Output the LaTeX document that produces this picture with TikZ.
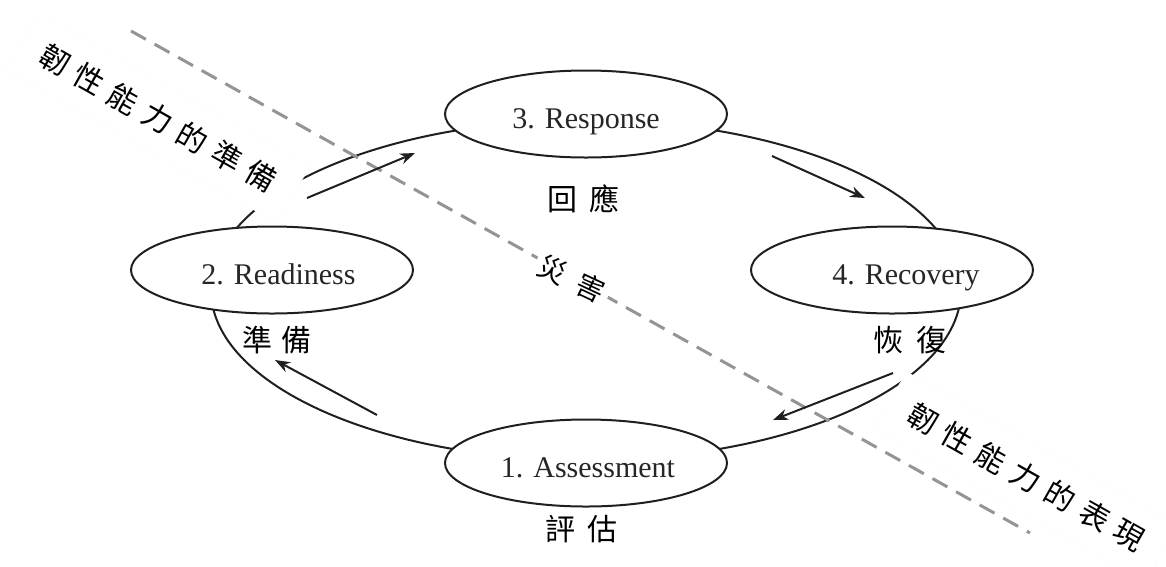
\documentclass[tikz,border=0pt]{standalone}
\usepackage{fontspec}
\setmainfont{Liberation Serif}
\newfontfamily\cjk{Noto Sans CJK TC}
\usetikzlibrary{shapes.geometric,arrows.meta}
\newcommand\gp{\hspace{9.5pt}}
\begin{document}
\begin{tikzpicture}[x=1pt,y=-1pt,
  stage/.style={ellipse, draw=black!88, line width=2pt, fill=white, minimum width=282pt, minimum height=87pt, inner sep=0pt, font=\fontsize{30}{30}\selectfont, text=black!85, text height=28pt, text depth=0pt},
  zh/.style={font=\cjk\fontsize{30}{30}\selectfont, inner sep=0pt},
  band/.style={zh, fill=white, draw=black!3, line width=0.5pt, densely dotted, minimum width=312pt, minimum height=66pt, rotate=-29.5},
  flow/.style={line width=2pt, draw=black!88, -{Stealth[length=15pt,width=11pt]}},
  cut/.style={draw=black!42, line width=3pt, dash pattern=on 17pt off 10pt},
  cycle/.style={draw=black!88, line width=2pt}]
\useasboundingbox (0,0) rectangle (1166,566);
% cycle
\coordinate (c) at (586,290);
\draw[cycle] (c) ellipse [x radius=375pt, y radius=170pt];
% dividing line
\coordinate (d1) at (131,31);
\coordinate (d2) at (1030,533);
\draw[cut] (d1) -- (d2);
% arrows
\coordinate (a1s) at (307,198); \coordinate (a1e) at (415,153);
\coordinate (a2s) at (772,156); \coordinate (a2e) at (865,198);
\coordinate (a3s) at (893,373); \coordinate (a3e) at (773,420);
\coordinate (a4s) at (377,415); \coordinate (a4e) at (275,360);
\draw[flow] (a1s) -- (a1e);
\draw[flow] (a2s) -- (a2e);
\draw[flow] (a3s) -- (a3e);
\draw[flow] (a4s) -- (a4e);
% stages
\node[stage] (s3) at (586,114) {3. Response};
\node[stage] (s2) at (272,270) {\hspace{13pt}2. Readiness};
\node[stage] (s4) at (892,270) {\hspace{28pt}4. Recovery};
\node[stage] (s1) at (586,463) {\hspace{4pt}1. Assessment};
% chinese labels
\node[zh] (l3) at (583,199) {回\hspace{12pt}應};
\node[zh] (l2) at (277,340) {準\hspace{9pt}備};
\node[zh] (l4) at (910,340) {恢\hspace{14pt}復};
\node[zh] (l1) at (581,529) {評\hspace{12pt}估};
\node[zh, font=\cjk\fontsize{28}{28}\selectfont, fill=white, inner sep=5pt, rotate=-25] (dis) at (572,279) {災\hspace{14pt}害};
% band labels
\node[band] (prep) at (158,118) {韌\gp 性\gp 能\gp 力\gp 的\gp 準\gp 備};
\node[band] (perf) at (1026,477) {韌\gp 性\gp 能\gp 力\gp 的\gp 表\gp 現};
\end{tikzpicture}
\end{document}
